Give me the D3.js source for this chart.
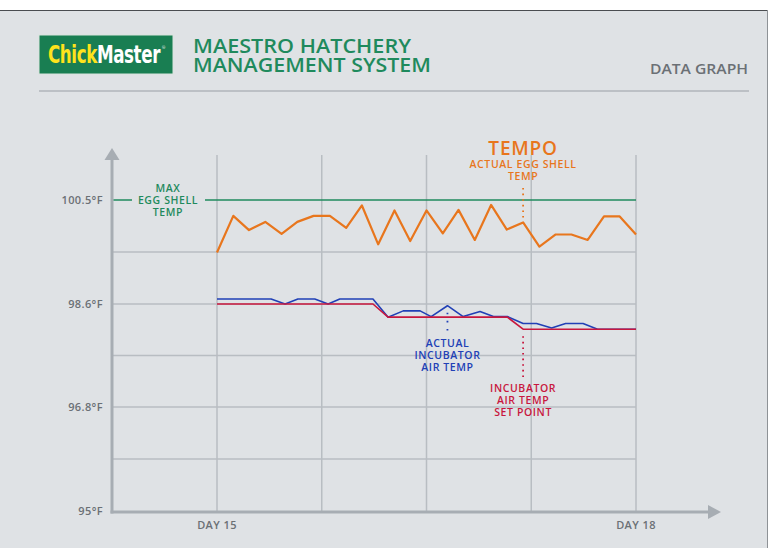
<!DOCTYPE html>
<html>
<head>
<meta charset="utf-8">
<script src="https://cdn.jsdelivr.net/npm/d3@7/dist/d3.min.js"></script>
<style>
  html, body { margin: 0; padding: 0; background: #ffffff; }
  svg { display: block; }
  text { font-family: "Open Sans", "DejaVu Sans", sans-serif; }
</style>
</head>
<body>
<svg id="chart" width="770" height="548"></svg>
<script>
// ---- data ----------------------------------------------------------------
// Hours elapsed since the start of day 15 (day 18 = 72 h)
const dayTicks = [0, 72];
const dayLabels = ["DAY 15", "DAY 18"];
const gridHours = [0, 18, 36, 54, 72];

const tempTicks = [95, 96.8, 98.6, 100.5];
const tempLabels = ["95°F", "96.8°F", "98.6°F", "100.5°F"];
const gridTemps = [95.9, 96.8, 97.7, 98.6, 99.55];

const maxEggShellTemp = 100.5;

// Actual egg shell temperature (TEMPO sensor)
const shellHours = [0, 2.8, 5.5, 8.3, 11.1, 13.8, 16.6, 19.4, 22.2, 24.9, 27.7, 30.5, 33.2, 36,
                    38.8, 41.5, 44.3, 47.1, 49.8, 52.6, 55.4, 58.2, 60.9, 63.7, 66.5, 69.2, 72];
const shellTemps = [99.54, 100.21, 99.95, 100.10, 99.88, 100.10, 100.21, 100.21, 99.99, 100.40,
                    99.69, 100.31, 99.75, 100.31, 99.89, 100.32, 99.77, 100.41, 99.96, 100.09,
                    99.65, 99.87, 99.87, 99.77, 100.20, 100.20, 99.87];

// Actual incubator air temperature
const airHours = [0, 9.3, 11.7, 13.9, 16.8, 19.1, 21.1, 26.8, 29.4, 32.0, 34.9, 36.8, 39.6, 42.3,
                  45.2, 47.5, 49.9, 52.6, 54.9, 57.5, 59.9, 62.9, 65.4, 72];
const airTemps = [98.69, 98.69, 98.60, 98.69, 98.69, 98.60, 98.69, 98.69, 98.37, 98.48, 98.48,
                  98.38, 98.57, 98.38, 98.47, 98.38, 98.38, 98.26, 98.26, 98.18, 98.26, 98.26,
                  98.16, 98.16];

// Incubator air temperature set point
const setHours = [0, 26.8, 29.4, 49.9, 52.6, 72];
const setTemps = [98.6, 98.6, 98.37, 98.37, 98.16, 98.16];

// ---- layout --------------------------------------------------------------
const C = {
  bg: "#dfe2e5", grid: "#b8bdc2", axis: "#a7adb3", tick: "#6b7075",
  green: "#1f8a5d", logo: "#197e52", yellow: "#ffe31c",
  orange: "#e8761d", blue: "#2140b6", red: "#c8173e"
};
const axisX = 112, axisY = 512, plotTop = 155;

const svg = d3.select("#chart");

// panel
svg.append("rect").attr("x", 0).attr("y", 10).attr("width", 768).attr("height", 538).attr("fill", C.bg);
svg.append("line").attr("x1", 0).attr("x2", 768).attr("y1", 10.5).attr("y2", 10.5)
  .attr("stroke", "#4a4d50").attr("stroke-width", 1);
svg.append("line").attr("x1", 767.5).attr("x2", 767.5).attr("y1", 10).attr("y2", 548)
  .attr("stroke", "#8e9296").attr("stroke-width", 1);

// ---- header --------------------------------------------------------------
const logo = svg.append("g");
logo.append("rect").attr("x", 39).attr("y", 35).attr("width", 134).attr("height", 39)
  .attr("fill", C.logo).attr("stroke", "#d9e3dd").attr("stroke-width", 1);
const logoText = logo.append("text").attr("x", 48).attr("y", 63)
  .attr("textLength", 112).attr("lengthAdjust", "spacingAndGlyphs")
  .style("font-family", "'Liberation Sans Narrow', 'DejaVu Sans Condensed', sans-serif")
  .style("font-size", "24px").style("font-weight", 700).style("letter-spacing", "-0.5px");
logoText.append("tspan").attr("fill", C.yellow).text("Chick");
logoText.append("tspan").attr("fill", "#ffffff").text("Master");
logo.append("text").attr("x", 162).attr("y", 49).attr("fill", "#ffffff")
  .style("font-size", "4px").text("®");

svg.append("text").attr("x", 193).attr("y", 52.5).attr("fill", C.green)
  .attr("textLength", 218).attr("lengthAdjust", "spacingAndGlyphs")
  .style("font-size", "19px").style("font-weight", 600).text("MAESTRO HATCHERY");
svg.append("text").attr("x", 193).attr("y", 72).attr("fill", C.green)
  .attr("textLength", 238).attr("lengthAdjust", "spacingAndGlyphs")
  .style("font-size", "19px").style("font-weight", 600).text("MANAGEMENT SYSTEM");

svg.append("text").attr("x", 748).attr("y", 73.5).attr("text-anchor", "end").attr("fill", C.tick)
  .attr("textLength", 98).attr("lengthAdjust", "spacingAndGlyphs")
  .style("font-size", "14.5px").style("font-weight", 600).text("DATA GRAPH");

svg.append("line").attr("x1", 39).attr("x2", 749).attr("y1", 91).attr("y2", 91)
  .attr("stroke", "#b0b5ba").attr("stroke-width", 1.5);

// ---- scales --------------------------------------------------------------
const x = d3.scaleLinear().domain([0, 72]).range([217, 636]);
const y = d3.scaleLinear().domain([95, 96.8, 98.6, 100.5]).range([511, 407, 304, 200]);

// grid
svg.append("g").selectAll("line").data(gridTemps).join("line")
  .attr("x1", axisX).attr("x2", x(72))
  .attr("y1", d => y(d)).attr("y2", d => y(d))
  .attr("stroke", C.grid).attr("stroke-width", 1.5);
svg.append("g").selectAll("line").data(gridHours).join("line")
  .attr("x1", d => x(d)).attr("x2", d => x(d))
  .attr("y1", plotTop).attr("y2", axisY)
  .attr("stroke", C.grid).attr("stroke-width", 1.5);

// axes with arrow heads
svg.append("line").attr("x1", axisX).attr("x2", axisX).attr("y1", 158).attr("y2", axisY + 1.5)
  .attr("stroke", C.axis).attr("stroke-width", 3);
svg.append("path").attr("d", `M${axisX - 7.5},160 L${axisX},148 L${axisX + 7.5},160 Z`).attr("fill", C.axis);
svg.append("line").attr("x1", axisX - 1.5).attr("x2", 710).attr("y1", axisY).attr("y2", axisY)
  .attr("stroke", C.axis).attr("stroke-width", 3);
svg.append("path").attr("d", `M708,${axisY - 7} L721,${axisY} L708,${axisY + 7} Z`).attr("fill", C.axis);

// tick labels
svg.append("g").selectAll("text").data(tempTicks).join("text")
  .attr("x", 103).attr("y", d => y(d)).attr("dy", "0.36em").attr("text-anchor", "end")
  .attr("fill", C.tick).style("font-size", "11px").style("font-weight", 600)
  .style("letter-spacing", "0.4px")
  .text((d, i) => tempLabels[i]);
svg.append("g").selectAll("text").data(dayTicks).join("text")
  .attr("x", d => x(d)).attr("y", 529).attr("text-anchor", "middle")
  .attr("fill", C.tick).style("font-size", "11px").style("font-weight", 600)
  .style("letter-spacing", "0.4px")
  .text((d, i) => dayLabels[i]);

// ---- max egg shell temperature reference ---------------------------------
const yMax = y(maxEggShellTemp);
svg.append("line").attr("x1", axisX + 1.5).attr("x2", 132).attr("y1", yMax).attr("y2", yMax)
  .attr("stroke", C.green).attr("stroke-width", 1.5);
svg.append("line").attr("x1", 205).attr("x2", x(72)).attr("y1", yMax).attr("y2", yMax)
  .attr("stroke", C.green).attr("stroke-width", 1.5);

function stacked(lines, cx, y0, color, step) {
  lines.forEach((t, i) =>
    svg.append("text").attr("x", cx).attr("y", y0 + i * step).attr("text-anchor", "middle")
      .attr("fill", color).style("font-size", "10.5px").style("font-weight", 600)
      .style("letter-spacing", "0.6px").text(t));
}
stacked(["MAX", "EGG SHELL", "TEMP"], 168, yMax - 8, C.green, 12);

// ---- series --------------------------------------------------------------
const line = d3.line().x(d => x(d[0])).y(d => y(d[1]));
const zip = (a, b) => a.map((v, i) => [v, b[i]]);

svg.append("path").datum(zip(airHours, airTemps)).attr("d", line)
  .attr("fill", "none").attr("stroke", C.blue).attr("stroke-width", 1.6).attr("stroke-linejoin", "round");
svg.append("path").datum(zip(setHours, setTemps)).attr("d", line)
  .attr("fill", "none").attr("stroke", C.red).attr("stroke-width", 1.6).attr("stroke-linejoin", "round");
svg.append("path").datum(zip(shellHours, shellTemps)).attr("d", line)
  .attr("fill", "none").attr("stroke", C.orange).attr("stroke-width", 2.2).attr("stroke-linejoin", "round");

// ---- callouts ------------------------------------------------------------
function dotted(xv, y1, y2, color, gap) {
  svg.append("line").attr("x1", xv).attr("x2", xv).attr("y1", y1).attr("y2", y2)
    .attr("stroke", color).attr("stroke-width", 1.8)
    .attr("stroke-dasharray", `1.6 ${gap}`);
}

// TEMPO — actual egg shell temp, pointing at the reading at 52.6 h
const tempoX = x(shellHours[19]);
svg.append("text").attr("x", tempoX).attr("y", 155).attr("text-anchor", "middle").attr("fill", C.orange)
  .style("font-size", "19px").style("font-weight", 600).style("letter-spacing", "0.8px").text("TEMPO");
stacked(["ACTUAL EGG SHELL", "TEMP"], tempoX, 167.5, C.orange, 12);
dotted(tempoX, 188, y(shellTemps[19]) - 4, C.orange, 4);

// actual incubator air temp, pointing at the peak at 39.6 h
const airX = x(airHours[12]);
dotted(airX, y(airTemps[12]) + 7, 332, C.blue, 6.5);
stacked(["ACTUAL", "INCUBATOR", "AIR TEMP"], airX, 347, C.blue, 12);

// incubator air temp set point, pointing at the step at 52.6 h
const setX = x(setHours[4]);
dotted(setX, y(setTemps[4]) + 7, 378, C.red, 4);
stacked(["INCUBATOR", "AIR TEMP", "SET POINT"], setX, 392, C.red, 12);
</script>
</body>
</html>
